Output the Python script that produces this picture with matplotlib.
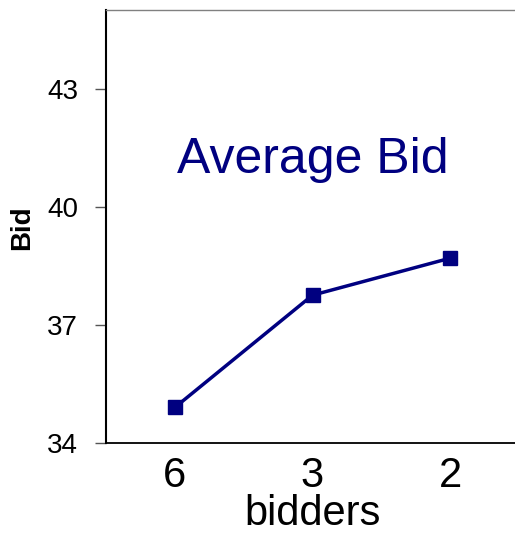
import matplotlib
matplotlib.use("Agg")
import matplotlib.pyplot as plt

bidders = ["6", "3", "2"]
avg_bid = [34.91, 37.76, 38.70]
y_ticks = [34, 37, 40, 43]

plt.rcParams['font.family'] = ['Liberation Sans', 'DejaVu Sans']

fig = plt.figure(figsize=(5.15, 5.48), dpi=100)
ax = fig.add_axes([106/515, (548-443.3)/548, 413/515, 433.3/548])

x = list(range(len(bidders)))
ax.plot(x, avg_bid, color="#000080", lw=2.5, marker="s", ms=9.5, mec="#000080", mfc="#000080")

ax.set_xlim(-0.5, 2.5)
ax.set_ylim(34, 45)
ax.set_xticks(x)
ax.set_xticklabels(bidders, fontsize=30)
ax.set_yticks(y_ticks)
ax.set_yticklabels([str(t) for t in y_ticks], fontsize=20)
ax.tick_params(axis="x", length=0, pad=9)
ax.tick_params(axis="y", length=8, width=1, color="#555555", pad=12)

ax.spines["right"].set_visible(False)
ax.spines["top"].set_color("#808080")
ax.spines["top"].set_linewidth(1)
ax.spines["left"].set_linewidth(1.5)
ax.spines["bottom"].set_linewidth(1.3)

ax.set_xlabel("bidders", fontsize=30, labelpad=-1)
ax.set_ylabel("Bid", fontsize=20, fontweight="bold")
ax.yaxis.set_label_coords(-71/413, (443.3-228)/433.3)

ax.text(1.0, 41.2, "Average Bid", color="#000080", fontsize=36, ha="center", va="center")

fig.savefig("out.png", dpi=100)
